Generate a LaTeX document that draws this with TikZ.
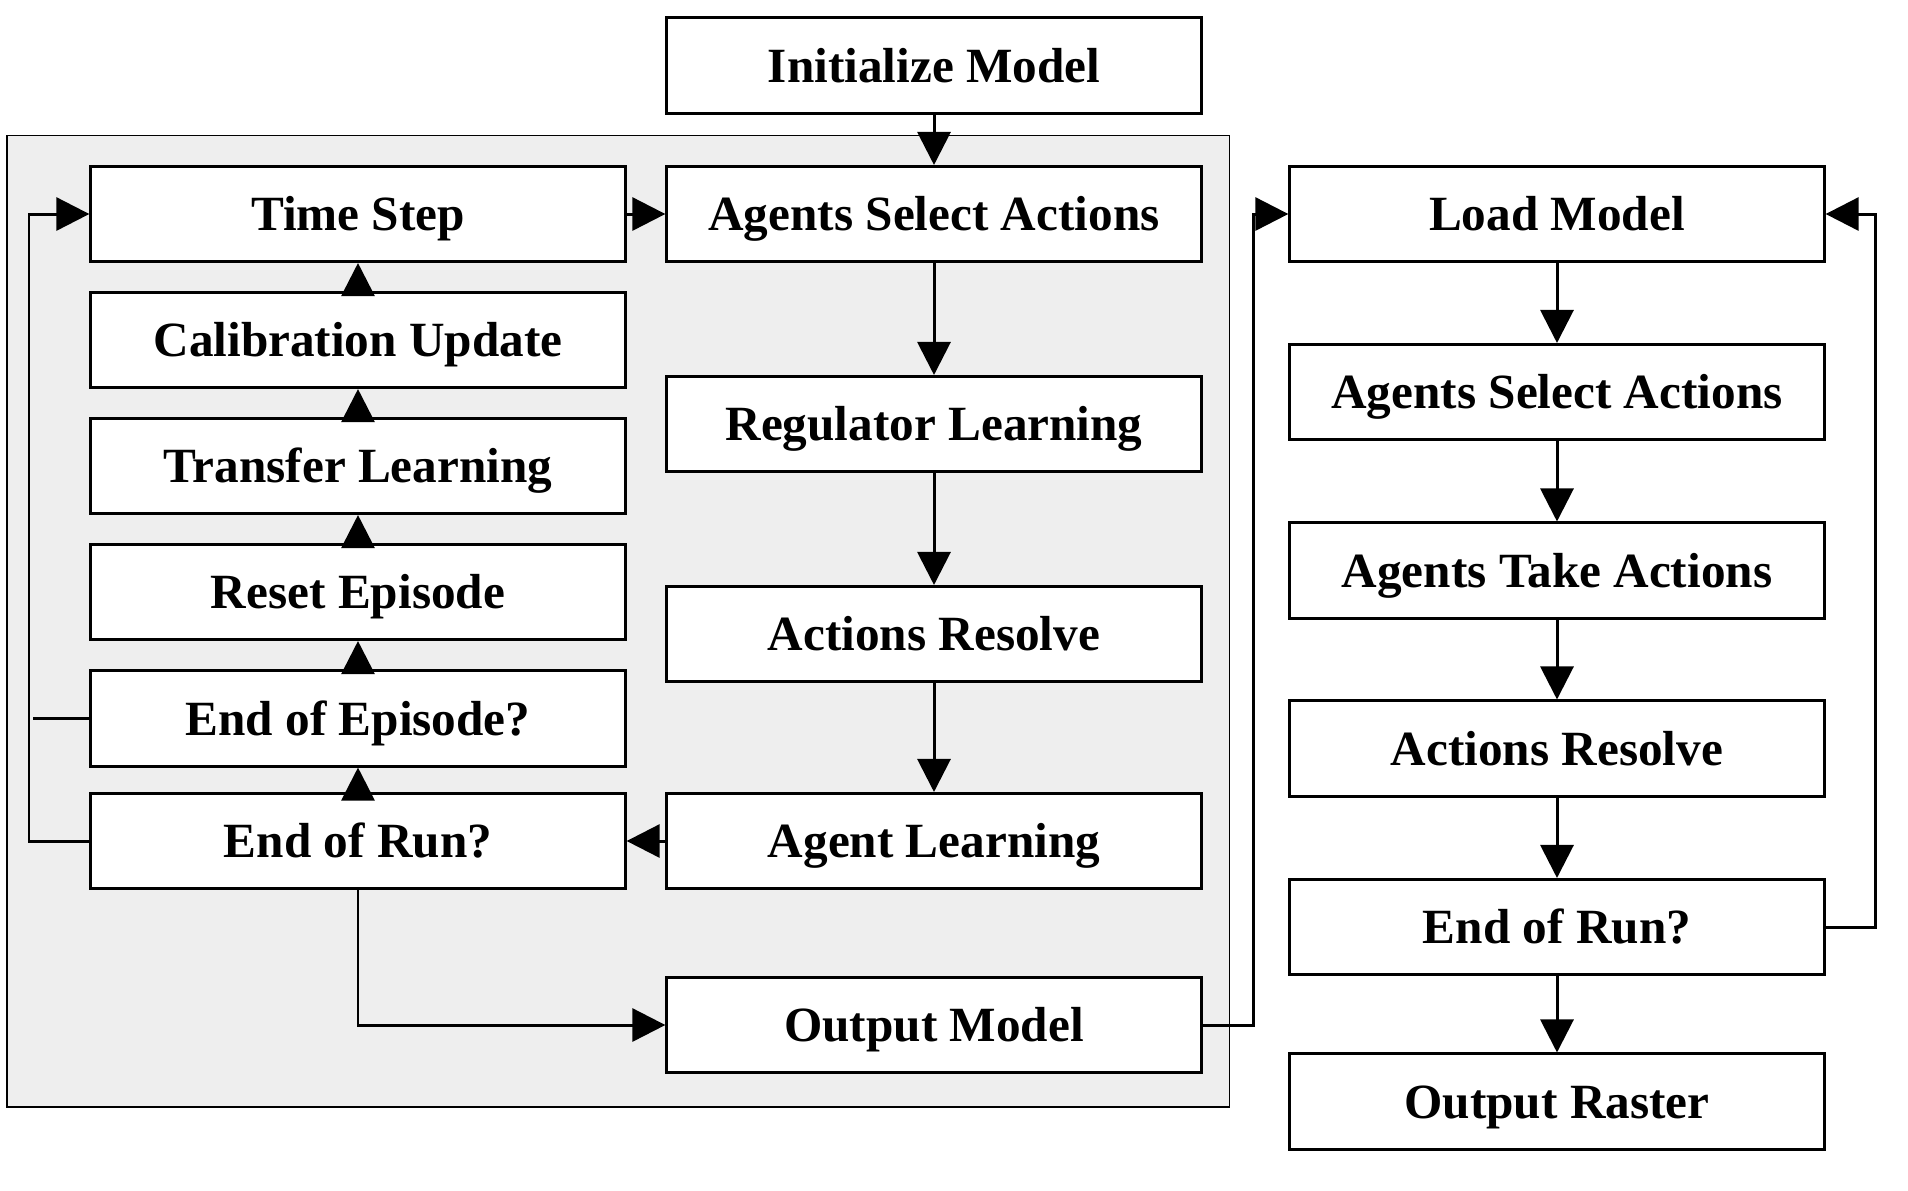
\documentclass[tikz,border=0pt]{standalone}
\usepackage{fontspec}
\setmainfont{Liberation Serif}
\usetikzlibrary{arrows.meta}
\definecolor{panelgray}{HTML}{EEEEEE}
\tikzset{
    stage/.style={draw,line width=0.85pt,fill=white,minimum width=5.34cm,minimum height=0.95cm,inner sep=0pt,
        text height=9.5pt,text depth=0pt,
        font=\fontsize{14}{16}\selectfont\bfseries},
    flow/.style={line width=0.85pt,-{Triangle[width=0.33cm,length=0.33cm]}},
}
\begin{document}
\begin{tikzpicture}[x=0.01cm,y=-0.01cm]
            \useasboundingbox (0,0) rectangle (1908,1190);
            \draw [fill=panelgray,line width=0.55pt] (7,135.5) rectangle (1229.5,1107);

            % training loop
            \node [stage] (init)  at (934,65.5) {Initialize Model};
            \node [stage] (step)  at (358,214) {Time Step};
            \node [stage] (calib) at (358,340) {Calibration Update};
            \node [stage] (trans) at (358,466) {Transfer Learning};
            \node [stage] (reset) at (358,592) {Reset Episode};
            \node [stage] (epi)   at (358,718.5) {End of Episode?};
            \node [stage] (runA)  at (358,841) {End of Run?};
            \node [stage] (selA)  at (934,214) {Agents Select Actions};
            \node [stage] (reg)   at (934,424) {Regulator Learning};
            \node [stage] (resA)  at (934,634) {Actions Resolve};
            \node [stage] (learn) at (934,841) {Agent Learning};
            \node [stage] (out)   at (934,1025) {Output Model};

            % application run
            \node [stage] (load)  at (1557,214) {Load Model};
            \node [stage] (selB)  at (1557,392) {Agents Select Actions};
            \node [stage] (take)  at (1557,570.5) {Agents Take Actions};
            \node [stage] (resB)  at (1557,748.5) {Actions Resolve};
            \node [stage] (runB)  at (1557,927) {End of Run?};
            \node [stage] (rast)  at (1557,1101.5) {Output Raster};

            \coordinate (epiEnd) at (33,718.5);
            \coordinate (loopA)  at (29,841);
            \coordinate (bridge) at (1253,1025);
            \coordinate (loopB)  at (1875,927);

            \draw [flow] (init) -- (selA);
            \draw [flow] (step) -- (selA);
            \draw [flow] (selA) -- (reg);
            \draw [flow] (reg) -- (resA);
            \draw [flow] (resA) -- (learn);
            \draw [flow] (learn) -- (runA);
            \draw [flow] (runA) -- (epi);
            \draw [flow] (epi) -- (reset);
            \draw [flow] (reset) -- (trans);
            \draw [flow] (trans) -- (calib);
            \draw [flow] (calib) -- (step);
            \draw [line width=0.85pt] (epi.west) -- (epiEnd);
            \draw [flow] (runA.west) -- (loopA) |- (step.west);
            \draw [flow] (runA.south) |- (out.west);
            \draw [flow] (out.east) -- (bridge) |- (load.west);

            \draw [flow] (load) -- (selB);
            \draw [flow] (selB) -- (take);
            \draw [flow] (take) -- (resB);
            \draw [flow] (resB) -- (runB);
            \draw [flow] (runB) -- (rast);
            \draw [flow] (runB.east) -- (loopB) |- (load.east);
\end{tikzpicture}
\end{document}
